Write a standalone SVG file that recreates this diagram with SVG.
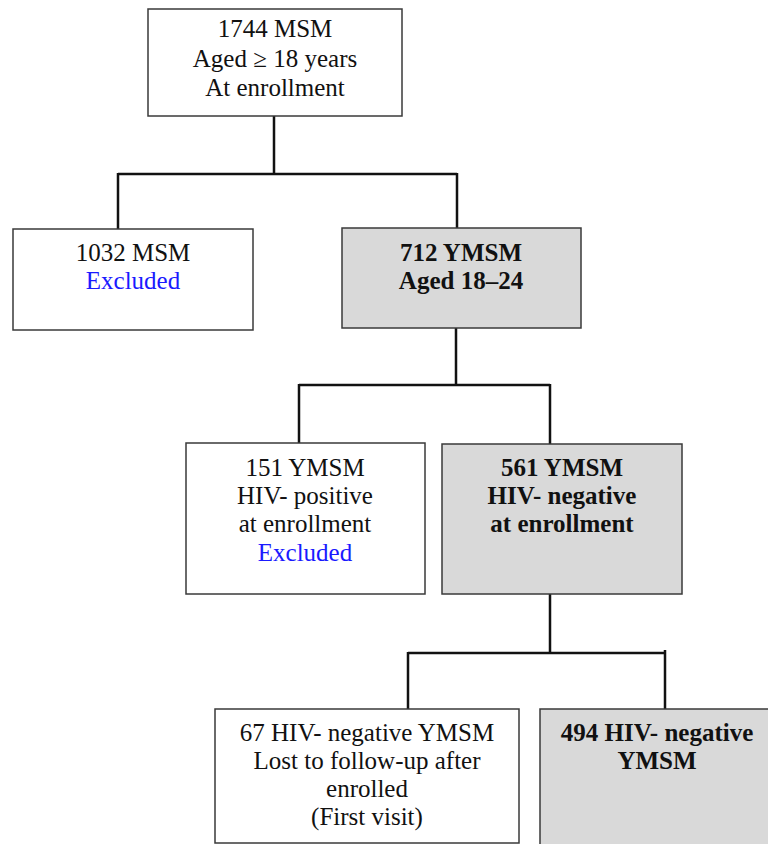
<svg xmlns="http://www.w3.org/2000/svg" width="768" height="844" viewBox="0 0 768 844">
<style>
.box{fill:#ffffff;stroke:#3a3a3a;stroke-width:1.5}
.hl{fill:#d9d9d9;stroke:#3a3a3a;stroke-width:1.5}
text{font-family:"Liberation Serif","Times New Roman",serif;font-size:25px;fill:#111;text-anchor:middle}
.b{font-weight:bold}
.ex{fill:#1a1aff}
.conn{fill:none;stroke:#111;stroke-width:2.5}
</style>
<rect width="768" height="844" fill="#fff"/>
<g id="connectors">
<path class="conn" d="M274 116V174M118 174H457M118 173V229M457 173V228"/>
<path class="conn" d="M456 328V385M299 385H550M299 384V443M550 384V444"/>
<path class="conn" d="M550 594V653M408 653H665M408 652V709M665 650V709"/>
</g>
<g id="n1744"><rect class="box" x="148" y="9" width="254" height="107"/>
<text x="275" y="37">1744 MSM</text><text x="275" y="67">Aged ≥ 18 years</text><text x="275" y="96">At enrollment</text></g>
<g id="n1032"><rect class="box" x="13" y="229" width="240" height="101"/>
<text x="133" y="261">1032 MSM</text><text class="ex" x="133" y="289">Excluded</text></g>
<g id="n712"><rect class="hl" x="342" y="228" width="239" height="100"/>
<text class="b" x="461" y="261">712 YMSM</text><text class="b" x="461" y="289">Aged 18–24</text></g>
<g id="n151"><rect class="box" x="186" y="443" width="239" height="151"/>
<text x="305" y="476">151 YMSM</text><text x="305" y="504">HIV- positive</text><text x="305" y="532">at enrollment</text><text class="ex" x="305" y="561">Excluded</text></g>
<g id="n561"><rect class="hl" x="442" y="444" width="240" height="150"/>
<text class="b" x="562" y="476">561 YMSM</text><text class="b" x="562" y="504">HIV- negative</text><text class="b" x="562" y="532">at enrollment</text></g>
<g id="n67"><rect class="box" x="215" y="709" width="304" height="134"/>
<text x="367" y="741">67 HIV- negative YMSM</text><text x="367" y="769">Lost to follow-up after</text><text x="367" y="797">enrolled</text><text x="367" y="825">(First visit)</text></g>
<g id="n494"><rect class="hl" x="540" y="709" width="240" height="145"/>
<text class="b" x="657" y="741">494 HIV- negative</text><text class="b" x="657" y="769">YMSM</text></g>
</svg>
